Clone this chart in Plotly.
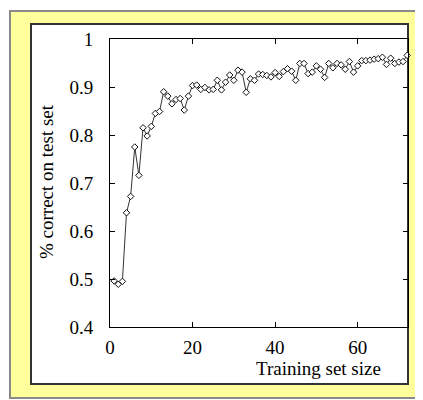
import plotly.graph_objects as go

# Data
train_size = list(range(1, 73))
pct_correct = [
    0.496, 0.489, 0.495, 0.638, 0.672, 0.775, 0.716, 0.815, 0.798, 0.818,
    0.845, 0.849, 0.890, 0.881, 0.865, 0.874, 0.876, 0.852, 0.881, 0.903,
    0.904, 0.895, 0.899, 0.894, 0.895, 0.914, 0.894, 0.910, 0.925, 0.914,
    0.935, 0.931, 0.889, 0.917, 0.914, 0.927, 0.926, 0.924, 0.921, 0.930,
    0.922, 0.932, 0.938, 0.933, 0.914, 0.949, 0.949, 0.928, 0.931, 0.944,
    0.937, 0.920, 0.949, 0.940, 0.949, 0.946, 0.937, 0.953, 0.931, 0.944,
    0.955, 0.955, 0.956, 0.958, 0.959, 0.962, 0.947, 0.960, 0.949, 0.952,
    0.953, 0.966,
]
x_tickvals = [0, 20, 40, 60]
x_ticktext = ["0", "20", "40", "60"]
y_tickvals = [0.4, 0.5, 0.6, 0.7, 0.8, 0.9, 1.0]
y_ticktext = ["0.4", "0.5", "0.6", "0.7", "0.8", "0.9", "1"]
x_title = "Training set size"
y_title = "% correct on test set"

# page body has an 8px margin; work in window pixels and shift
OFF = 8
W, H = 423 - OFF, 400 - OFF
PL, PR, PT, PB = 110, 408, 39, 327  # plot area in window pixels
L, T = PL - OFF, PT - OFF
R, B = W - (PR - OFF), H - (PB - OFF)
PW, PH = PR - PL, PB - PT


def px_x(p):
    return (p - PL) / PW


def px_y(p):
    return (PB - p) / PH


FONT = "Liberation Serif, Times New Roman, serif"
FS = 19

fig = go.Figure()
fig.add_trace(go.Scatter(
    x=train_size, y=pct_correct, mode="lines+markers",
    line=dict(color="#333333", width=1),
    marker=dict(symbol="diamond", size=5, color="white",
                line=dict(color="#111111", width=1)),
    showlegend=False, cliponaxis=False,
))

shapes = [
    # yellow outer frame
    dict(type="rect", xref="paper", yref="paper", layer="below",
         x0=px_x(10), x1=px_x(440), y0=px_y(11), y1=px_y(398),
         fillcolor="#FFFF9C", line=dict(color="#8a8a8a", width=2)),
    # white inner panel
    dict(type="rect", xref="paper", yref="paper", layer="below",
         x0=px_x(31), x1=px_x(408), y0=px_y(24), y1=px_y(384),
         fillcolor="white", line=dict(color="#333333", width=2)),
]

annotations = [
    dict(text=x_title, xref="paper", yref="paper", x=px_x(318), y=px_y(368),
         xanchor="center", yanchor="middle", showarrow=False,
         font=dict(family=FONT, size=FS, color="black")),
    dict(text=y_title, xref="paper", yref="paper", x=px_x(46), y=px_y(182),
         xanchor="center", yanchor="middle", showarrow=False, textangle=-90,
         font=dict(family=FONT, size=FS, color="black")),
]

fig.update_layout(
    width=W, height=H,
    margin=dict(l=L, r=R, t=T, b=B, pad=0),
    paper_bgcolor="white", plot_bgcolor="rgba(0,0,0,0)",
    shapes=shapes, annotations=annotations,
    font=dict(family=FONT, size=FS, color="black"),
    xaxis=dict(range=[0, 72.2], tickvals=x_tickvals, ticktext=x_ticktext,
               ticks="inside", ticklen=5, tickcolor="black", tickwidth=1,
               showline=True, linecolor="black", linewidth=1, mirror="ticks",
               showgrid=False, zeroline=False, ticklabelstandoff=3),
    yaxis=dict(range=[0.4, 1.0], tickvals=y_tickvals, ticktext=y_ticktext,
               ticks="inside", ticklen=5, tickcolor="black", tickwidth=1,
               showline=True, linecolor="black", linewidth=1, mirror="ticks",
               showgrid=False, zeroline=False, ticklabelstandoff=12),
)

fig.write_html("out.html")
